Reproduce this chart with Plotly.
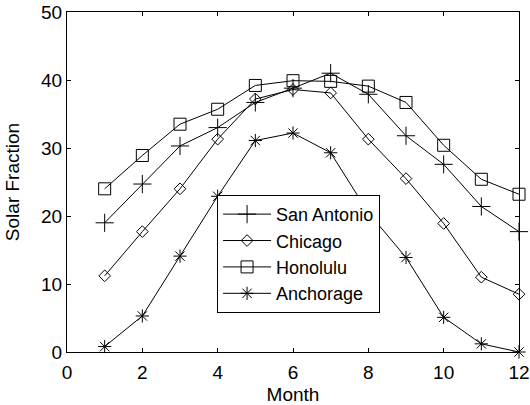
import plotly.graph_objects as go

months = [1, 2, 3, 4, 5, 6, 7, 8, 9, 10, 11, 12]
san_antonio = [19.0, 24.7, 30.3, 33.0, 36.7, 38.8, 41.0, 37.9, 31.8, 27.6, 21.4, 17.7]
chicago = [11.2, 17.7, 24.0, 31.3, 37.2, 38.6, 38.1, 31.3, 25.5, 18.9, 11.0, 8.5]
honolulu = [24.0, 28.9, 33.5, 35.7, 39.2, 39.9, 39.8, 39.1, 36.7, 30.4, 25.4, 23.2]
anchorage = [0.8, 5.3, 14.1, 22.9, 31.1, 32.2, 29.3, 20.5, 13.9, 5.1, 1.2, 0.0]

series = [
    ("San Antonio", san_antonio, "cross-thin-open", 13),
    ("Chicago", chicago, "diamond-open", 9),
    ("Honolulu", honolulu, "square-open", 12),
    ("Anchorage", anchorage, "asterisk-open", 11),
]

FONT = "Liberation Sans, Arial, sans-serif"

fig = go.Figure()
for name, vals, sym, size in series:
    fig.add_trace(go.Scatter(
        x=months, y=vals, name=name, mode="lines+markers",
        line=dict(color="black", width=1),
        marker=dict(symbol=sym, size=size, color="black",
                    line=dict(color="black", width=1)),
        cliponaxis=False,
    ))

axis_common = dict(
    showline=True, linecolor="black", linewidth=1, mirror="ticks",
    ticks="inside", ticklen=4, tickcolor="black", tickwidth=1,
    showgrid=False, zeroline=False, automargin=False,
    tickfont=dict(family=FONT, size=19, color="black"),
)

fig.update_layout(
    width=530, height=405,
    margin=dict(l=67, r=11, t=12, b=53),
    paper_bgcolor="white", plot_bgcolor="white",
    font=dict(family=FONT, size=19, color="black"),
    xaxis=dict(range=[0, 12], tickvals=[0, 2, 4, 6, 8, 10, 12],
               ticklabelstandoff=3,
               title=dict(text="Month", font=dict(family=FONT, size=19), standoff=10),
               **axis_common),
    yaxis=dict(range=[0, 50], tickvals=[0, 10, 20, 30, 40, 50],
               title=dict(text="Solar Fraction", font=dict(family=FONT, size=19), standoff=16),
               **axis_common),
    legend=dict(x=0.332, y=0.462, xanchor="left", yanchor="top",
                bgcolor="white", bordercolor="black", borderwidth=1,
                font=dict(family=FONT, size=18, color="black"),
                tracegroupgap=0, itemwidth=48),
    showlegend=True,
)

fig.write_html("out.html")
